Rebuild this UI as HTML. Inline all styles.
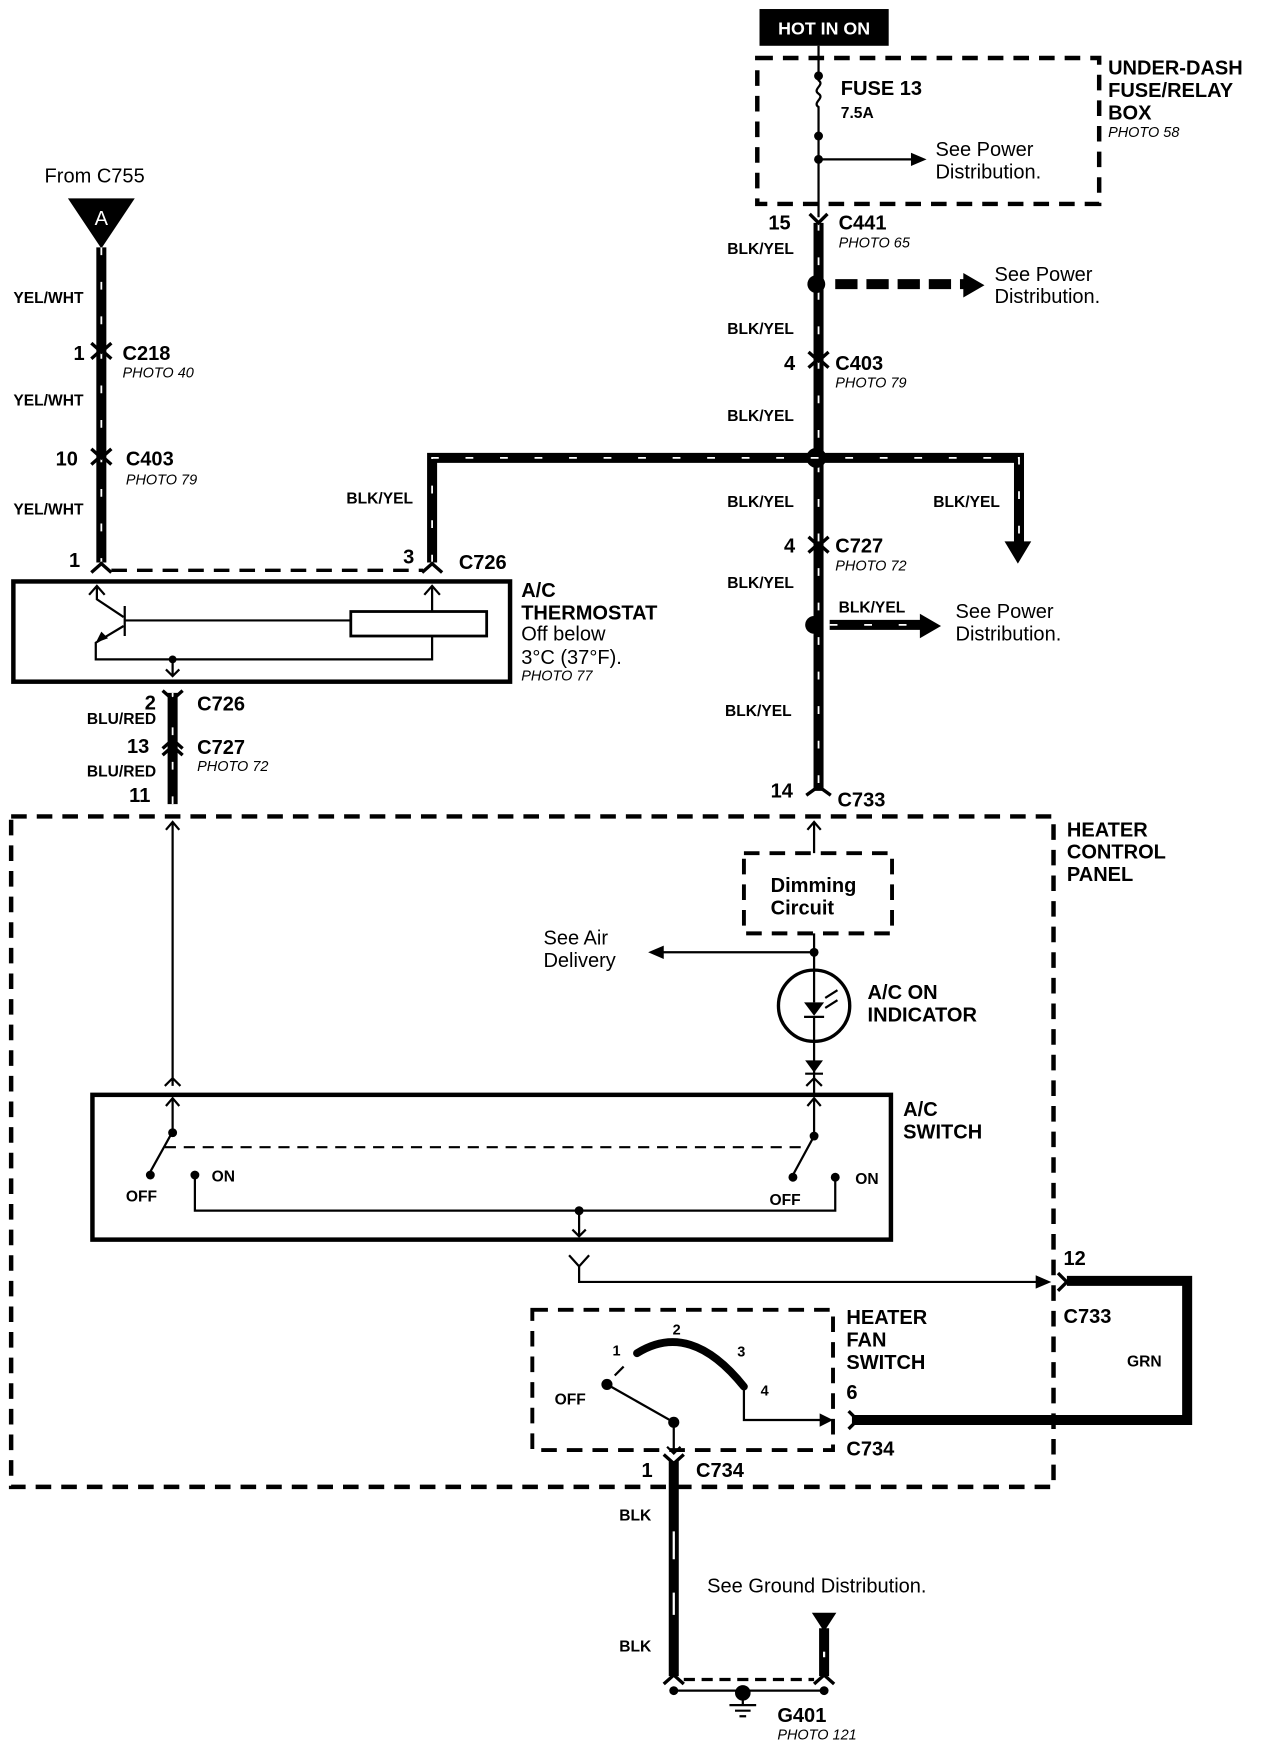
<!DOCTYPE html>
<html><head><meta charset="utf-8"><style>
html,body{margin:0;padding:0;background:#fff}
svg{display:block}
text{font-family:"Liberation Sans",Arial,sans-serif;fill:#000}
.b{font-weight:bold;font-size:18px}
.s{font-weight:bold;font-size:14px}
.n{font-size:18px}
.i{font-style:italic;font-size:13px}
.w{stroke:#000;stroke-width:9;fill:none}
.wd{stroke:#fff;stroke-width:1.6;fill:none;stroke-dasharray:7 24}
.t{stroke:#000;stroke-width:2;fill:none}
.d{stroke:#000;stroke-width:4;fill:none;stroke-dasharray:14 9}
.c{stroke:#000;stroke-width:3;fill:none}
</style></head><body>
<svg width="1264" height="1742" viewBox="0 0 1135 1564" xmlns="http://www.w3.org/2000/svg">
<!-- HOT IN ON -->
<rect x="682" y="8" width="116" height="33" fill="#000"/>
<text x="740" y="31" text-anchor="middle" style="fill:#fff;font-weight:bold;font-size:16px">HOT IN ON</text>
<rect x="680" y="52" width="307" height="131" class="d"/>
<path class="t" d="M735 41 V72 c6 4 -6 8 0 12 c6 4 -6 8 0 12 V195"/>
<circle cx="735" cy="68" r="4"/><circle cx="735" cy="122" r="4"/><circle cx="735" cy="143" r="4"/>
<path class="t" d="M735 143 H820"/><path d="M818 137 L832 143 L818 149Z"/>
<text x="755" y="85" class="b">FUSE 13</text><text x="755" y="106" class="s">7.5A</text>
<text x="840" y="140" class="n">See Power</text><text x="840" y="160" class="n">Distribution.</text>
<text x="995" y="67" class="b">UNDER-DASH</text><text x="995" y="87" class="b">FUSE/RELAY</text><text x="995" y="107" class="b">BOX</text><text x="995" y="123" class="i">PHOTO 58</text>
<!-- main right wire -->
<path class="w" d="M735 200 V710"/><path class="wd" d="M735 200 V710"/>
<path class="c" d="M727 192 L735 200 L743 192"/>
<text x="690" y="206" class="b">15</text><text x="753" y="206" class="b">C441</text><text x="753" y="222" class="i">PHOTO 65</text>
<text x="653" y="228" class="s">BLK/YEL</text>
<circle cx="733" cy="255" r="8"/>
<path d="M750 255 H868" stroke="#000" stroke-width="9" stroke-dasharray="20 8"/><path d="M865 245 L884 256 L865 267Z"/>
<text x="893" y="252" class="n">See Power</text><text x="893" y="272" class="n">Distribution.</text>
<text x="653" y="300" class="s">BLK/YEL</text>
<path class="c" d="M726 316 L735 324 L744 316 M726 330 L735 322 L744 330"/>
<text x="704" y="332" class="b">4</text><text x="750" y="332" class="b">C403</text><text x="750" y="348" class="i">PHOTO 79</text>
<text x="653" y="378" class="s">BLK/YEL</text>
<circle cx="733" cy="411" r="9"/>
<path class="w" d="M388 505 V411 H915 V490"/><path class="wd" d="M388 505 V411 H915 V490"/>
<path d="M902 486 L914 506 L926 486Z"/>
<text x="311" y="452" class="s">BLK/YEL</text><text x="653" y="455" class="s">BLK/YEL</text><text x="838" y="455" class="s">BLK/YEL</text>
<path class="c" d="M726 482 L735 490 L744 482 M726 496 L735 488 L744 496"/>
<text x="704" y="496" class="b">4</text><text x="750" y="496" class="b">C727</text><text x="750" y="512" class="i">PHOTO 72</text>
<text x="653" y="528" class="s">BLK/YEL</text>
<circle cx="731" cy="561" r="8"/>
<path d="M745 561 H828" stroke="#000" stroke-width="9"/><path class="wd" d="M745 561 H828"/><path d="M826 551 L845 562 L826 573Z"/>
<text x="753" y="550" class="s">BLK/YEL</text>
<text x="858" y="555" class="n">See Power</text><text x="858" y="575" class="n">Distribution.</text>
<text x="651" y="643" class="s">BLK/YEL</text>
<path class="c" d="M724 714 L735 706 L746 714"/>
<text x="692" y="716" class="b">14</text><text x="752" y="724" class="b">C733</text>
<!-- left -->
<text x="40" y="164" class="n">From C755</text>
<path d="M61 178 H121 L91 223Z"/><text x="91" y="202" text-anchor="middle" style="fill:#fff;font-size:18px">A</text>
<path class="w" d="M91 222 V505"/><path class="wd" d="M91 222 V505"/>
<text x="12" y="272" class="s">YEL/WHT</text>
<path class="c" d="M82 308 L91 316 L100 308 M82 322 L91 314 L100 322"/>
<text x="66" y="323" class="b">1</text><text x="110" y="323" class="b">C218</text><text x="110" y="339" class="i">PHOTO 40</text>
<text x="12" y="364" class="s">YEL/WHT</text>
<path class="c" d="M82 403 L91 411 L100 403 M82 417 L91 409 L100 417"/>
<text x="50" y="418" class="b">10</text><text x="113" y="418" class="b">C403</text><text x="113" y="435" class="i">PHOTO 79</text>
<text x="12" y="462" class="s">YEL/WHT</text>
<path class="c" d="M82 514 L91 506 L100 514 M379 514 L388 506 L397 514"/>
<path class="d" d="M100 512 H380" style="stroke-width:3"/>
<text x="62" y="509" class="b">1</text><text x="362" y="506" class="b">3</text><text x="412" y="511" class="b">C726</text>
<!-- thermostat -->
<rect x="12" y="522" width="446" height="90" fill="none" stroke="#000" stroke-width="4"/>
<path class="t" d="M80 534 L87 526 L94 534 M381 534 L388 526 L395 534 M87 526 V538 L111 554 M112 544 V571 M112 557 H315 M388 526 V549"/>
<rect x="315" y="549" width="122" height="22" fill="none" stroke="#000" stroke-width="2.5"/>
<path class="t" d="M111 562 L86 577 V592 H388 V571"/><path d="M86 577 L91 567 L97 573Z"/>
<circle cx="155" cy="592" r="3.5"/><path class="t" d="M155 592 V607 M149 601 L155 607 L161 601"/>
<text x="468" y="536" class="b">A/C</text><text x="468" y="556" class="b">THERMOSTAT</text>
<text x="468" y="575" class="n">Off below</text><text x="468" y="596" class="n">3°C (37°F).</text><text x="468" y="611" class="i">PHOTO 77</text>
<path class="w" d="M155 622 V722"/><path class="wd" d="M155 622 V722"/>
<path class="c" d="M146 620 L155 628 L164 620 M146 672 L155 664 L164 672 M146 678 L155 670 L164 678"/>
<text x="130" y="637" class="b">2</text><text x="177" y="638" class="b">C726</text>
<text x="78" y="650" class="s">BLU/RED</text>
<text x="114" y="676" class="b">13</text><text x="177" y="677" class="b">C727</text><text x="177" y="692" class="i">PHOTO 72</text>
<text x="78" y="697" class="s">BLU/RED</text><text x="116" y="720" class="b">11</text>
<!-- heater control panel -->
<rect x="10" y="733" width="936" height="602" class="d"/>
<text x="958" y="751" class="b">HEATER</text><text x="958" y="771" class="b">CONTROL</text><text x="958" y="791" class="b">PANEL</text>
<path class="t" d="M155 738 V975 M149 745 L155 738 L161 745 M148 975 L155 968 L162 975"/>
<path class="t" d="M731 738 V766 M725 745 L731 738 L737 745"/>
<rect x="668" y="766" width="133" height="72" class="d" style="stroke-width:3.5"/>
<text x="692" y="801" class="b">Dimming</text><text x="692" y="821" class="b">Circuit</text>
<path class="t" d="M731 838 V871 M731 855 H595"/><circle cx="731" cy="855" r="4"/><path d="M596 849 L582 855 L596 861Z"/>
<text x="488" y="848" class="n">See Air</text><text x="488" y="868" class="n">Delivery</text>
<circle cx="731" cy="903" r="32" fill="none" stroke="#000" stroke-width="3"/>
<path d="M722 900 H740 L731 912Z"/><path class="t" d="M722 913 H740 M731 871 V900 M731 912 V935 M741 896 L752 889 M741 905 L752 898"/>
<text x="779" y="897" class="b">A/C ON</text><text x="779" y="917" class="b">INDICATOR</text>
<path class="t" d="M731 935 V985"/><path d="M723 952 H739 L731 963Z"/><path class="t" d="M723 964 H739 M724 975 L731 968 L738 975"/>
<text x="811" y="1002" class="b">A/C</text><text x="811" y="1022" class="b">SWITCH</text>
<rect x="83" y="983" width="717" height="130" fill="none" stroke="#000" stroke-width="4"/>
<path class="t" d="M149 993 L155 986 L161 993 M155 986 V1016 L135 1052 M725 993 L731 986 L737 993 M731 986 V1020 L712 1055"/>
<circle cx="155" cy="1017" r="4"/><circle cx="135" cy="1055" r="4"/><circle cx="175" cy="1055" r="4"/>
<circle cx="731" cy="1020" r="4"/><circle cx="712" cy="1057" r="4"/><circle cx="750" cy="1057" r="4"/>
<path d="M148 1030 H722" stroke="#000" stroke-width="2" stroke-dasharray="10 7"/>
<path class="t" d="M175 1055 V1087 H750 V1057 M520 1087 V1110 M514 1104 L520 1110 L526 1104"/><circle cx="520" cy="1087" r="4"/>
<text x="113" y="1079" class="s">OFF</text><text x="190" y="1061" class="s">ON</text>
<text x="691" y="1082" class="s">OFF</text><text x="768" y="1063" class="s">ON</text>
<path class="t" d="M511 1127 L520 1137 L529 1127 M520 1137 V1151 H940"/><path d="M930 1145 L944 1151 L930 1157Z"/>
<path class="w" d="M958 1150 H1066 V1275 H765"/><path class="c" d="M950 1143 L958 1151 L950 1159 M762 1267 L770 1275 L762 1283"/>
<text x="955" y="1136" class="b">12</text><text x="955" y="1188" class="b">C733</text><text x="1012" y="1227" class="s">GRN</text>
<text x="760" y="1256" class="b">6</text><text x="760" y="1307" class="b">C734</text>
<!-- fan switch -->
<rect x="478" y="1176" width="270" height="126" class="d" style="stroke-width:3.5"/>
<text x="760" y="1189" class="b">HEATER</text><text x="760" y="1209" class="b">FAN</text><text x="760" y="1229" class="b">SWITCH</text>
<path d="M572 1215 Q620 1185 668 1245" stroke="#000" stroke-width="7" fill="none" stroke-linecap="round"/>
<path class="t" d="M668 1245 V1275 H740 M545 1243 L605 1277 V1305 M599 1299 L605 1305 L611 1299 M552 1235 L560 1227"/>
<path d="M736 1269 L748 1275 L736 1281Z"/>
<circle cx="545" cy="1243" r="5"/><circle cx="605" cy="1277" r="5"/>
<text x="550" y="1217" class="s" style="font-size:13px">1</text><text x="604" y="1198" class="s" style="font-size:13px">2</text>
<text x="662" y="1218" class="s" style="font-size:13px">3</text><text x="683" y="1253" class="s" style="font-size:13px">4</text>
<text x="498" y="1261" class="s">OFF</text>
<!-- ground -->
<path class="w" d="M605 1312 V1505"/><path d="M605 1375 V1400 M605 1430 V1450" stroke="#fff" stroke-width="2"/>
<path class="c" d="M596 1306 L605 1314 L614 1306"/>
<text x="576" y="1326" class="b">1</text><text x="625" y="1326" class="b">C734</text>
<text x="556" y="1365" class="s">BLK</text><text x="556" y="1483" class="s">BLK</text>
<text x="635" y="1430" class="n">See Ground Distribution.</text>
<path d="M729 1448 H751 L740 1465Z"/><path class="w" d="M740 1462 V1505"/><path d="M740 1483 V1488" stroke="#fff" stroke-width="2"/>
<path class="c" d="M596 1512 L605 1504 L614 1512 M731 1512 L740 1504 L749 1512"/>
<path class="d" d="M614 1508 H731" style="stroke-width:3;stroke-dasharray:10 6"/>
<path class="t" d="M605 1518 H740 M667 1518 V1530 M655 1531 H679 M660 1536 H674 M664 1541 H670"/>
<circle cx="605" cy="1518" r="4"/><circle cx="740" cy="1518" r="4"/><circle cx="667" cy="1520" r="7"/>
<text x="698" y="1546" class="b">G401</text><text x="698" y="1562" class="i">PHOTO 121</text>
</svg>
</body></html>
